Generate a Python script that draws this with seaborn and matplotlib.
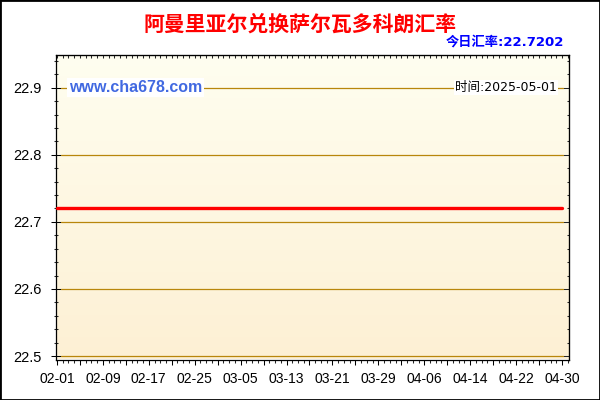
import numpy as np
import pandas as pd
import matplotlib
matplotlib.use("Agg")
import matplotlib.pyplot as plt
import seaborn as sns
from matplotlib.ticker import MultipleLocator, NullFormatter, FixedLocator
from matplotlib.patches import Rectangle

# ---------------- data ----------------
title = "阿曼里亚尔兑换萨尔瓦多科朗汇率"
today_label = "今日汇率:22.7202"
site_label = "www.cha678.com"
time_label = "时间:2025-05-01"

dates = pd.date_range("2025-02-01", "2025-04-30", freq="D")
rates = [
    22.7202, 22.7202, 22.7202, 22.7202, 22.7202, 22.7202, 22.7202, 22.7202, 22.7202, 22.7202,
    22.7202, 22.7202, 22.7202, 22.7202, 22.7202, 22.7202, 22.7202, 22.7202, 22.7202, 22.7202,
    22.7202, 22.7202, 22.7202, 22.7202, 22.7202, 22.7202, 22.7202, 22.7202, 22.7202, 22.7202,
    22.7202, 22.7202, 22.7202, 22.7202, 22.7202, 22.7202, 22.7202, 22.7202, 22.7202, 22.7202,
    22.7202, 22.7202, 22.7202, 22.7202, 22.7202, 22.7202, 22.7202, 22.7202, 22.7202, 22.7202,
    22.7202, 22.7202, 22.7202, 22.7202, 22.7202, 22.7202, 22.7202, 22.7202, 22.7202, 22.7202,
    22.7202, 22.7202, 22.7202, 22.7202, 22.7202, 22.7202, 22.7202, 22.7202, 22.7202, 22.7202,
    22.7202, 22.7202, 22.7202, 22.7202, 22.7202, 22.7202, 22.7202, 22.7202, 22.7202, 22.7202,
    22.7202, 22.7202, 22.7202, 22.7202, 22.7202, 22.7202, 22.7202, 22.7202, 22.7202,
]
y_ticks = [22.5, 22.6, 22.7, 22.8, 22.9]
y_tick_labels = ["22.5", "22.6", "22.7", "22.8", "22.9"]
grid_levels = [22.5, 22.6, 22.7, 22.8, 22.9]

day_index = np.arange(len(dates))
df = pd.DataFrame({"day": day_index, "rate": rates})

# ---------------- style ----------------
sns.set_style("ticks")
plt.rcParams["font.family"] = ["Liberation Sans", "Noto Sans CJK SC"]
plt.rcParams["axes.unicode_minus"] = False

fig = plt.figure(figsize=(6, 4), dpi=100)
fig.patch.set_facecolor("white")
ax = fig.add_axes([0.0928, 0.10125, 0.8555, 0.7605])

# gradient background
grad = np.linspace(0, 1, 256).reshape(-1, 1)
top_c = np.array([255, 254, 240]) / 255
bot_c = np.array([253, 240, 212]) / 255
img = top_c[None, None, :] * (1 - grad[:, :, None]) + bot_c[None, None, :] * grad[:, :, None]
ax.imshow(img, extent=[0, 1, 0, 1], transform=ax.transAxes, aspect="auto", zorder=0)

# horizontal grid lines
for lvl in grid_levels:
    ax.axhline(lvl, xmin=0.0097, xmax=0.988, color="#B8860B", lw=0.9, zorder=1)

sns.lineplot(data=df, x="day", y="rate", color="#FF0000", linewidth=2.4, ax=ax, zorder=3)

ax.set_xlim(-0.226, 89.22)
ax.set_ylim(22.4948, 22.9483)
ax.set_xlabel("")
ax.set_ylabel("")

# x ticks
major_days = day_index[::4]
major_labels = [dates[i].strftime("%m-%d") if i % 8 == 0 else "" for i in major_days]
ax.xaxis.set_major_locator(FixedLocator(major_days))
ax.set_xticklabels(major_labels)
ax.xaxis.set_minor_locator(MultipleLocator(1))
ax.tick_params(axis="x", which="major", direction="out", length=3.8, width=0.75,
               pad=5.5, labelsize=10, colors="black")
ax.tick_params(axis="x", which="minor", direction="out", length=2.5, width=0.75)

# y ticks
ax.set_yticks(y_ticks)
ax.set_yticklabels(y_tick_labels)
ax.yaxis.set_minor_locator(MultipleLocator(0.02))
ax.tick_params(axis="y", which="major", direction="inout", length=7.2, width=0.75,
               pad=6.5, labelsize=10.5, colors="black")
ax.tick_params(axis="y", which="minor", direction="inout", length=2.6, width=0.75)

for s in ax.spines.values():
    s.set_color("black")
    s.set_linewidth(0.9)
    s.set_visible(True)

# top ticks
secx = ax.secondary_xaxis("top")
secx.xaxis.set_major_locator(MultipleLocator(1))
secx.xaxis.set_major_formatter(NullFormatter())
secx.tick_params(axis="x", direction="in", length=2.4, width=0.75)

# right ticks
secy = ax.secondary_yaxis("right")
secy.yaxis.set_major_locator(MultipleLocator(0.1))
secy.yaxis.set_minor_locator(MultipleLocator(0.02))
secy.yaxis.set_major_formatter(NullFormatter())
secy.tick_params(axis="y", which="major", direction="in", length=4.0, width=0.75)
secy.tick_params(axis="y", which="minor", direction="in", length=1.8, width=0.75)

# texts
fig.text(0.5, 0.94, title, ha="center", va="center", color="#FF0000",
         fontsize=15, fontweight="bold", family=["Noto Sans CJK SC", "DejaVu Sans"])
fig.text(0.94, 0.894, today_label, ha="right", va="center", color="#0000FF",
         fontsize=9.5, fontweight="bold", family=["DejaVu Sans", "Noto Sans CJK SC"])
fig.text(0.115, 0.781, site_label, ha="left", va="center", color="#4169E1",
         fontsize=11.5, fontweight="bold", family=["Liberation Sans", "DejaVu Sans"],
         bbox=dict(facecolor="white", edgecolor="none", pad=1.5), zorder=5)
fig.text(0.928, 0.781, time_label, ha="right", va="center", color="black",
         fontsize=9, family=["DejaVu Sans", "Noto Sans CJK SC"],
         bbox=dict(facecolor="white", edgecolor="none", pad=1.0), zorder=5)

# outer frame
fig.add_artist(Rectangle((0, 0), 1, 1, transform=fig.transFigure, fill=False,
                         edgecolor="black", linewidth=2.0))

fig.savefig("out.png", dpi=100, facecolor="white")
